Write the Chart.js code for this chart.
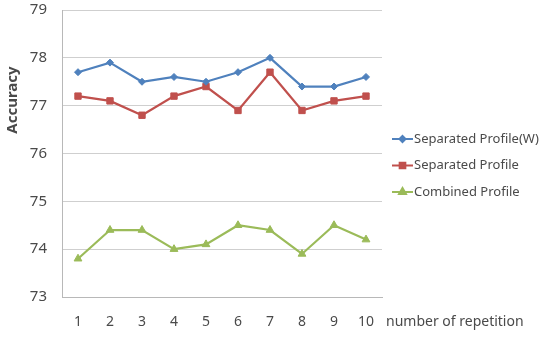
<!DOCTYPE html>
<html>
<head>
<meta charset="utf-8">
<script src="https://cdn.jsdelivr.net/npm/chart.js@4/dist/chart.umd.min.js"></script>
<style>
  html, body { margin: 0; padding: 0; background: #fff; }
  #wrap { width: 545px; height: 340px; position: relative; }
</style>
</head>
<body>
<div id="wrap"><canvas id="chart"></canvas></div>
<script>
const repetitions = ['1', '2', '3', '4', '5', '6', '7', '8', '9', '10'];
const separatedW = [77.7, 77.9, 77.5, 77.6, 77.5, 77.7, 78.0, 77.4, 77.4, 77.6];
const separated = [77.2, 77.1, 76.8, 77.2, 77.4, 76.9, 77.7, 76.9, 77.1, 77.2];
const combined = [73.8, 74.4, 74.4, 74.0, 74.1, 74.5, 74.4, 73.9, 74.5, 74.2];
const seriesNames = ['Separated Profile(W)', 'Separated Profile', 'Combined Profile'];

const fontFamily = '"Noto Sans", "DejaVu Sans", sans-serif';
const textColor = '#4a4a4a';

// legend + axis titles drawn beside the plot like the original spreadsheet chart
const extraText = {
  id: 'extraText',
  afterDraw(chart) {
    const ctx = chart.ctx;
    const area = chart.chartArea;
    ctx.save();

    ctx.font = '13px ' + fontFamily;
    ctx.textBaseline = 'middle';
    chart.data.datasets.forEach((ds, i) => {
      const y = 139 + i * 26.5;
      const x0 = area.right + 10;
      const x1 = x0 + 21;
      ctx.strokeStyle = ds.borderColor;
      ctx.lineWidth = 2;
      ctx.beginPath();
      ctx.moveTo(x0, y);
      ctx.lineTo(x1, y);
      ctx.stroke();
      Chart.helpers.drawPoint(ctx, {
        pointStyle: ds.pointStyle,
        radius: ds.pointRadius - 0.5,
        borderWidth: 1
      }, (x0 + x1) / 2, y);
      ctx.fillStyle = ds.borderColor;
      ctx.fill();
      ctx.fillStyle = textColor;
      ctx.textAlign = 'left';
      ctx.fillText(ds.label, x1 + 1, y);
    });

    ctx.font = '14px ' + fontFamily;
    ctx.fillStyle = textColor;
    ctx.textAlign = 'left';
    ctx.fillText('number of repetition', area.right + 4, 322);

    ctx.translate(13, 100);
    ctx.rotate(-Math.PI / 2);
    ctx.font = 'bold 15px ' + fontFamily;
    ctx.textAlign = 'center';
    ctx.fillText('Accuracy', 0, 0);
    ctx.restore();
  }
};

const makeSet = (label, data, color, style, radius) => ({
  label: label,
  data: data,
  borderColor: color,
  backgroundColor: color,
  borderWidth: 2.2,
  pointStyle: style,
  pointRadius: radius,
  pointHoverRadius: radius,
  pointBorderWidth: 1,
  tension: 0
});

new Chart(document.getElementById('chart'), {
  type: 'line',
  data: {
    labels: repetitions,
    datasets: [
      makeSet(seriesNames[0], separatedW, '#4f81bd', 'rectRot', 3.5),
      makeSet(seriesNames[1], separated, '#c0504d', 'rect', 4.5),
      makeSet(seriesNames[2], combined, '#9bbb59', 'triangle', 4.5)
    ]
  },
  options: {
    responsive: true,
    maintainAspectRatio: false,
    animation: false,
    layout: {
      padding: { left: 0, right: 163, top: 10, bottom: 0 }
    },
    plugins: {
      legend: { display: false },
      tooltip: { enabled: false }
    },
    scales: {
      x: {
        offset: true,
        grid: { display: false, drawTicks: false },
        border: { color: '#b8b8b8', width: 1 },
        ticks: {
          padding: 17,
          color: textColor,
          font: { size: 14, family: fontFamily },
          maxRotation: 0
        },
        afterFit(scale) { scale.height = 43; }
      },
      y: {
        min: 73,
        max: 79,
        ticks: {
          stepSize: 1,
          padding: 0,
          color: textColor,
          font: { size: 15, family: fontFamily }
        },
        // invisible tick marks keep the labels away from the axis
        grid: { color: '#cfcfcf', lineWidth: 1, drawTicks: true, tickLength: 15, tickColor: 'rgba(0,0,0,0)' },
        border: { color: '#b8b8b8', width: 1 },
        afterFit(scale) { scale.width = 62; }
      }
    }
  },
  plugins: [extraText]
});
</script>
</body>
</html>
